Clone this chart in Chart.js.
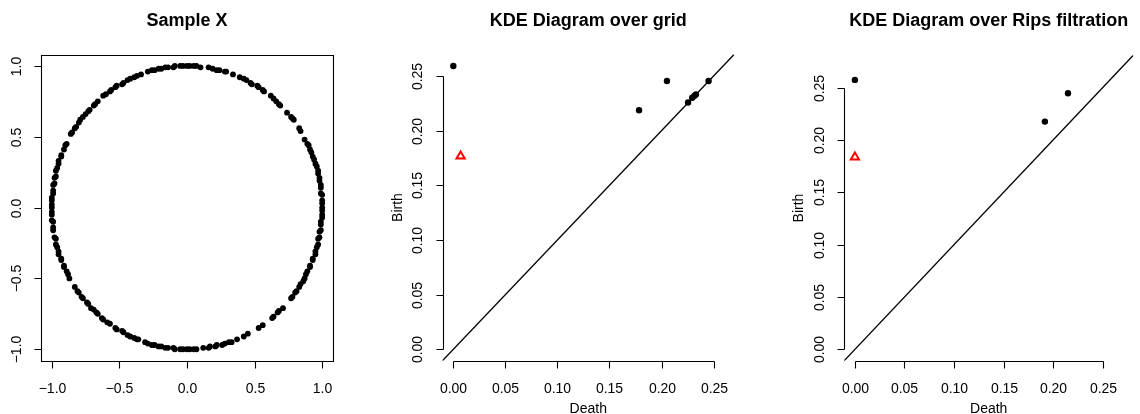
<!DOCTYPE html>
<html>
<head>
<meta charset="utf-8">
<script src="https://cdn.jsdelivr.net/npm/chart.js@4.4.0/dist/chart.umd.min.js"></script>
<style>
  html, body { margin: 0; padding: 0; background: #fff; }
  .fila { display: flex; width: 1140px; height: 414px; }
  .fila canvas { display: block; }
</style>
</head>
<body>
<div class="fila">
  <canvas id="panelMuestra" width="380" height="414"></canvas>
  <canvas id="panelGrid" width="380" height="414"></canvas>
  <canvas id="panelRips" width="380" height="414"></canvas>
</div>
<script>
// Muestra X: puntos sobre el circulo unidad
const sampleX = [
  0.77, 0.78, 0.80, 0.81, 0.83, 0.84, 0.86, 0.87, 0.88, 0.89, 0.91, 0.91, 0.93, 0.93, 0.95, 0.95, 0.96, 0.97, 0.97, 0.98,
  0.98, 0.99, 0.99, 0.99, 1.00, 1.00, 1.00, 1.00, 1.00, 1.00, 1.00, 0.99, 0.99, 0.99, 0.98, 0.98, 0.97, 0.97,
  0.96, 0.95, 0.94, 0.93, 0.92, 0.91, 0.90, 0.89, 0.87,
  0.84, 0.83, 0.79, 0.78, 0.77, 0.74,
  0.69, 0.68, 0.66, 0.64, 0.62,
  0.57, 0.56, 0.53, 0.52, 0.48, 0.47, 0.44, 0.42, 0.39, 0.34,
  0.29, 0.28, 0.24, 0.22, 0.19, 0.16, 0.10,
  0.07, 0.05, 0.02, 0.00, -0.03, -0.05, -0.09, -0.10, -0.14, -0.16, -0.19, -0.21, -0.24, -0.26, -0.29, -0.34,
  -0.37, -0.39, -0.42, -0.44, -0.47, -0.48, -0.52, -0.53, -0.56, -0.57, -0.60, -0.62, -0.66,
  -0.68, -0.69, -0.72, -0.73, -0.75, -0.77, -0.79, -0.80, -0.82, -0.83, -0.85, -0.86,
  -0.89, -0.90, -0.91,
  -0.93, -0.93, -0.95, -0.95, -0.96, -0.97, -0.97, -0.98, -0.98, -0.99, -0.99, -0.99, -1.00, -1.00, -1.00, -1.00,
  -1.00, -1.00, -1.00, -0.99, -0.99, -0.99,
  -0.98, -0.97, -0.97, -0.96, -0.95, -0.95, -0.93, -0.93, -0.91, -0.91, -0.89, -0.88, -0.87, -0.83,
  -0.81, -0.80, -0.78, -0.77, -0.74, -0.73, -0.71, -0.69, -0.67, -0.66, -0.63, -0.62, -0.59, -0.57,
  -0.53, -0.52, -0.48, -0.47, -0.44, -0.42, -0.39, -0.37, -0.36,
  -0.31, -0.29, -0.26, -0.24, -0.21, -0.19, -0.16, -0.14, -0.10, -0.09, -0.05, -0.03, 0.00, 0.02, 0.05, 0.07, 0.12,
  0.16, 0.17, 0.21, 0.22, 0.26, 0.28, 0.31, 0.33, 0.37,
  0.42, 0.45, 0.53, 0.56,
  0.63, 0.64, 0.67, 0.68, 0.71
];
const sampleY = [
  -0.64, -0.63, -0.60, -0.59, -0.56, -0.54, -0.52, -0.50, -0.47, -0.45, -0.42, -0.41, -0.37, -0.36, -0.33, -0.31, -0.28, -0.26, -0.22, -0.21,
  -0.17, -0.16, -0.12, -0.10, -0.07, -0.05, -0.02, 0.00, 0.03, 0.05, 0.09, 0.10, 0.14, 0.16, 0.19, 0.21, 0.24, 0.26,
  0.29, 0.31, 0.34, 0.36, 0.39, 0.41, 0.44, 0.45, 0.48,
  0.54, 0.56, 0.62, 0.63, 0.64, 0.67,
  0.72, 0.73, 0.75, 0.77, 0.79,
  0.82, 0.83, 0.85, 0.86, 0.87, 0.88, 0.90, 0.91, 0.92, 0.94,
  0.96, 0.96, 0.97, 0.97, 0.98, 0.99, 0.99,
  1.00, 1.00, 1.00, 1.00, 1.00, 1.00, 1.00, 0.99, 0.99, 0.99, 0.98, 0.98, 0.97, 0.97, 0.96, 0.94,
  0.93, 0.92, 0.91, 0.90, 0.88, 0.87, 0.86, 0.85, 0.83, 0.82, 0.80, 0.79, 0.75,
  0.73, 0.72, 0.69, 0.68, 0.66, 0.64, 0.62, 0.60, 0.57, 0.56, 0.53, 0.52,
  0.45, 0.44, 0.41,
  0.37, 0.36, 0.33, 0.31, 0.28, 0.26, 0.22, 0.21, 0.17, 0.16, 0.12, 0.10, 0.07, 0.05, 0.02, 0.00,
  -0.03, -0.05, -0.09, -0.10, -0.14, -0.16,
  -0.21, -0.22, -0.26, -0.28, -0.31, -0.33, -0.36, -0.37, -0.41, -0.42, -0.45, -0.47, -0.50, -0.56,
  -0.59, -0.60, -0.63, -0.64, -0.67, -0.68, -0.71, -0.72, -0.74, -0.75, -0.78, -0.79, -0.81, -0.82,
  -0.85, -0.86, -0.87, -0.88, -0.90, -0.91, -0.92, -0.93, -0.93,
  -0.95, -0.96, -0.97, -0.97, -0.98, -0.98, -0.99, -0.99, -0.99, -1.00, -1.00, -1.00, -1.00, -1.00, -1.00, -1.00, -0.99,
  -0.99, -0.98, -0.98, -0.97, -0.97, -0.96, -0.95, -0.95, -0.93,
  -0.91, -0.89, -0.85, -0.83,
  -0.78, -0.77, -0.74, -0.73, -0.71
];

// Diagrama KDE sobre grid
const gridDeath = [0.000, 0.1784, 0.2052, 0.2452, 0.2255, 0.2295, 0.2315, 0.2330];
const gridBirth = [0.2591, 0.2186, 0.2454, 0.2454, 0.2257, 0.2300, 0.2318, 0.2331];
const gridTriDeath = [0.007];
const gridTriBirth = [0.1766];

// Diagrama KDE sobre filtracion de Rips
const ripsDeath = [0.000, 0.1917, 0.2150];
const ripsBirth = [0.2573, 0.2175, 0.2446];
const ripsTriDeath = [0.000];
const ripsTriBirth = [0.1835];

// Ticks
const sampleTicks = [-1, -0.5, 0, 0.5, 1];
const sampleTickLabels = ['\u22121.0', '\u22120.5', '0.0', '0.5', '1.0'];
const diagTicks = [0, 0.05, 0.10, 0.15, 0.20, 0.25];
const diagTickLabels = ['0.00', '0.05', '0.10', '0.15', '0.20', '0.25'];
const diagonal = [-0.05, 0.35];

const FONT = '"Liberation Sans", Arial, Helvetica, sans-serif';

const toPoints = (xs, ys) => xs.map((v, i) => ({ x: v, y: ys[i] }));

// Ejes estilo R dibujados con las escalas de Chart.js
const ejesR = {
  id: 'ejesR',
  afterDraw(chart, args, o) {
    const { ctx, chartArea: a } = chart;
    const sx = chart.scales.x, sy = chart.scales.y;
    const h = (v) => Math.round(v) + 0.5;
    ctx.save();
    ctx.strokeStyle = '#000';
    ctx.fillStyle = '#000';
    ctx.lineWidth = 1.1;
    ctx.beginPath();
    if (o.box) {
      ctx.rect(h(a.left), h(a.top), Math.round(a.right) - Math.round(a.left), Math.round(a.bottom) - Math.round(a.top));
    }
    const xp = o.ticks.map(v => h(sx.getPixelForValue(v)));
    const yp = o.ticks.map(v => h(sy.getPixelForValue(v)));
    const bx = h(a.bottom), lx = h(a.left);
    ctx.moveTo(xp[0], bx);
    ctx.lineTo(xp[xp.length - 1], bx);
    xp.forEach(p => { ctx.moveTo(p, bx); ctx.lineTo(p, bx + 7); });
    ctx.moveTo(lx, yp[0]);
    ctx.lineTo(lx, yp[yp.length - 1]);
    yp.forEach(p => { ctx.moveTo(lx, p); ctx.lineTo(lx - 7, p); });
    ctx.stroke();

    ctx.font = '14px ' + FONT;
    ctx.textAlign = 'center';
    ctx.textBaseline = 'alphabetic';
    xp.forEach((p, i) => ctx.fillText(o.labels[i], p, a.bottom + 32.6));
    yp.forEach((p, i) => {
      ctx.save();
      ctx.translate(a.left - 20.5, p);
      ctx.rotate(-Math.PI / 2);
      ctx.fillText(o.labels[i], 0, 0);
      ctx.restore();
    });
    const cx = (a.left + a.right) / 2, cy = (a.top + a.bottom) / 2;
    if (o.xTitle) ctx.fillText(o.xTitle, cx, a.bottom + 52.6);
    if (o.yTitle) {
      ctx.save();
      ctx.translate(a.left - 41, cy);
      ctx.rotate(-Math.PI / 2);
      ctx.fillText(o.yTitle, 0, 0);
      ctx.restore();
    }
    ctx.font = 'bold 18px ' + FONT;
    ctx.fillText(o.title, cx, 26);
    ctx.restore();
  }
};

const baseOptions = (range, padding, axes) => ({
  responsive: false,
  animation: false,
  events: [],
  layout: { padding },
  scales: {
    x: { type: 'linear', display: false, min: range[0], max: range[1] },
    y: { type: 'linear', display: false, min: range[0], max: range[1] }
  },
  plugins: { legend: { display: false }, tooltip: { enabled: false }, ejesR: axes }
});

const puntos = (data, radius) => ({
  data, pointStyle: 'circle', pointRadius: radius,
  backgroundColor: '#000', borderColor: '#000', borderWidth: 0, showLine: false
});
const triangulo = (data) => ({
  data, pointStyle: 'triangle', pointRadius: 4.8,
  backgroundColor: 'rgba(255,255,255,0)', borderColor: '#ff0000', borderWidth: 2, showLine: false
});
const linea = () => ({
  data: toPoints(diagonal, diagonal), showLine: true, pointRadius: 0,
  borderColor: '#000', borderWidth: 1.3, backgroundColor: '#000'
});

// Panel 1
new Chart(document.getElementById('panelMuestra'), {
  type: 'scatter',
  data: { datasets: [puntos(toPoints(sampleX, sampleY), 2.9)] },
  options: baseOptions([-1.08, 1.08], { left: 41, right: 47, top: 54.6, bottom: 53.4 },
    { box: true, ticks: sampleTicks, labels: sampleTickLabels, title: 'Sample X' }),
  plugins: [ejesR]
});

// Panel 2
new Chart(document.getElementById('panelGrid'), {
  type: 'scatter',
  data: { datasets: [
    triangulo(toPoints(gridTriDeath, gridTriBirth)),
    puntos(toPoints(gridDeath, gridBirth), 3.2),
    linea()
  ] },
  options: baseOptions([-0.0104, 0.2697], { left: 62.5, right: 25.9, top: 54.4, bottom: 53.3 },
    { box: false, ticks: diagTicks, labels: diagTickLabels, title: 'KDE Diagram over grid', xTitle: 'Death', yTitle: 'Birth' }),
  plugins: [ejesR]
});

// Panel 3
new Chart(document.getElementById('panelRips'), {
  type: 'scatter',
  data: { datasets: [
    triangulo(toPoints(ripsTriDeath, ripsTriBirth)),
    puntos(toPoints(ripsDeath, ripsBirth), 3.2),
    linea()
  ] },
  options: baseOptions([-0.0108, 0.2808], { left: 84.2, right: 4.2, top: 55.3, bottom: 53.3 },
    { box: false, ticks: diagTicks, labels: diagTickLabels, title: 'KDE Diagram over Rips filtration', xTitle: 'Death', yTitle: 'Birth' }),
  plugins: [ejesR]
});
</script>
</body>
</html>
